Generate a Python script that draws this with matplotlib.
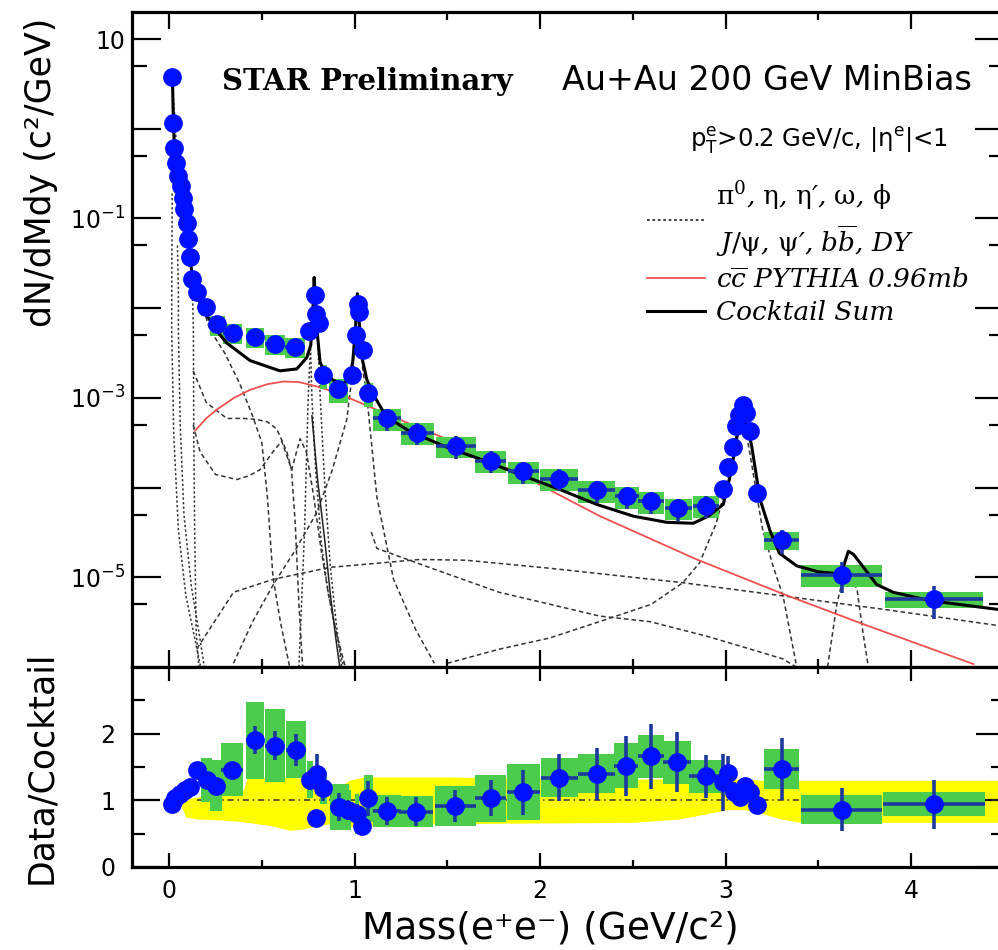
import numpy as np
import matplotlib
matplotlib.use("Agg")
import matplotlib.pyplot as plt
from matplotlib.lines import Line2D
from matplotlib.font_manager import FontProperties
from matplotlib.ticker import FixedLocator, FuncFormatter, MultipleLocator

plt.rcParams['font.family'] = ['DejaVu Sans']
plt.rcParams['mathtext.fontset'] = 'dejavusans'
plt.rcParams['mathtext.default'] = 'regular'

# ---- measured dielectron yield (upper panel) ----
mass = [0.018, 0.023, 0.029, 0.038, 0.050, 0.063, 0.074, 0.081, 0.095, 0.104,
        0.113, 0.126, 0.153, 0.198, 0.260, 0.343, 0.464, 0.571, 0.679, 0.756,
        0.787, 0.792, 0.809, 0.832, 0.913, 0.985, 1.006, 1.021, 1.024, 1.044,
        1.075, 1.174, 1.339, 1.547, 1.734, 1.910, 2.102, 2.305, 2.467, 2.597,
        2.746, 2.895, 2.985, 3.016, 3.039, 3.057, 3.075, 3.096, 3.110, 3.132,
        3.168, 3.303, 3.626, 4.124]
yield_val = [3.8, 1.15, 0.61, 0.41, 0.30, 0.227, 0.17, 0.126, 0.089, 0.059,
             0.037, 0.021, 0.0152, 0.0102, 0.0066, 0.0053, 0.0048, 0.0040, 0.0037, 0.0055,
             0.0139, 0.0087, 0.0068, 0.0018, 0.00125, 0.00178, 0.0050, 0.0112, 0.0091, 0.0034,
             0.00114, 5.9e-4, 4.1e-4, 2.9e-4, 2.0e-4, 1.52e-4, 1.26e-4, 9.3e-5, 8.0e-5, 7.0e-5,
             5.9e-5, 6.3e-5, 9.7e-5, 1.71e-4, 2.83e-4, 4.9e-4, 6.5e-4, 8.4e-4, 6.7e-4, 4.3e-4,
             8.7e-5, 2.6e-5, 1.07e-5, 5.7e-6]
bin_half = [0.003, 0.003, 0.003, 0.005, 0.006, 0.006, 0.005, 0.005, 0.006, 0.005,
            0.005, 0.008, 0.02, 0.025, 0.04, 0.05, 0.05, 0.055, 0.055, 0.01,
            0.01, 0.01, 0.01, 0.02, 0.05, 0.015, 0.01, 0.01, 0.01, 0.01,
            0.025, 0.075, 0.09, 0.11, 0.085, 0.085, 0.1, 0.1, 0.065, 0.07,
            0.075, 0.07, 0.01, 0.01, 0.01, 0.01, 0.01, 0.01, 0.01, 0.01,
            0.02, 0.095, 0.22, 0.265]
stat_frac = [0.05] * 31 + [0.28] * 11 + [0.1] * 8 + [0.15, 0.3, 0.38, 0.4]
sys_frac = ([0.1] * 12 + [0.2, 0.2] + [0.25] * 5 + [0.1] * 4 + [0.3, 0.3, 0.2]
            + [0.1] * 4 + [0.3] + [0.27] * 11 + [0.08] * 8 + [0.1, 0.22, 0.27, 0.2])

# ---- cocktail curves ----
sum_mass = [0.018, 0.023, 0.029, 0.038, 0.05, 0.063, 0.074, 0.081, 0.095, 0.104,
            0.113, 0.126, 0.15, 0.2, 0.26, 0.31, 0.437, 0.598, 0.688, 0.742,
            0.764, 0.776, 0.782, 0.79, 0.80, 0.814, 0.84, 0.88, 0.93, 0.97,
            0.99, 1.005, 1.015, 1.025, 1.04, 1.066, 1.10, 1.17, 1.3, 1.5,
            1.7, 1.91, 2.108, 2.305, 2.503, 2.683, 2.826, 2.907, 2.988, 3.03,
            3.06, 3.087, 3.11, 3.141, 3.186, 3.24, 3.29, 3.384, 3.5, 3.6,
            3.635, 3.662, 3.69, 3.725, 3.815, 3.905, 4.1, 4.39, 4.5]
sum_val = [3.8, 1.15, 0.61, 0.41, 0.30, 0.227, 0.17, 0.126, 0.089, 0.059,
           0.037, 0.021, 0.0135, 0.0085, 0.0055, 0.0041, 0.0026, 0.0020, 0.0021, 0.0028,
           0.0039, 0.01, 0.022, 0.012, 0.005, 0.0025, 0.0019, 0.0016, 0.0014, 0.0016,
           0.0025, 0.006, 0.0145, 0.007, 0.0028, 0.0016, 0.0011, 0.00062, 0.00042, 0.00028,
           0.0002, 1.35e-4, 9.5e-5, 6.5e-5, 4.8e-5, 4.1e-5, 4.0e-5, 4.8e-5, 6.5e-5, 1.5e-4,
           3.5e-4, 7.4e-4, 5.5e-4, 2.9e-4, 7.4e-5, 3.3e-5, 1.86e-5, 1.34e-5, 1.15e-5, 1.1e-5,
           1.3e-5, 1.95e-5, 1.8e-5, 1.45e-5, 8.3e-6, 6.8e-6, 5.5e-6, 4.6e-6, 4.3e-6]

charm_mass = [0.14, 0.20, 0.257, 0.35, 0.437, 0.53, 0.616, 0.70, 0.796, 0.90,
              0.994, 1.245, 1.605, 1.964, 2.323, 2.845, 3.312, 3.743, 4.336]
charm_val = [4.3e-4, 5.9e-4, 7.4e-4, 1.0e-3, 1.23e-3, 1.42e-3, 1.52e-3, 1.5e-3, 1.34e-3, 1.15e-3,
             9.5e-4, 5.7e-4, 2.8e-4, 1.17e-4, 4.8e-5, 1.58e-5, 6.5e-6, 3.0e-6, 1.08e-6]

pi0_mass = [0.018, 0.05, 0.09, 0.115, 0.125, 0.131, 0.133, 0.138, 0.146, 0.16]
pi0_val = [3.5, 0.28, 0.08, 0.032, 0.018, 5.8e-3, 4e-4, 3.2e-5, 2.5e-6, 1e-6]

gam_mass = [0.017, 0.015, 0.014, 0.025, 0.05, 0.09, 0.14, 0.17]
gam_val = [0.19, 0.0316, 5.75e-3, 3.98e-4, 3.4e-5, 6.3e-6, 2e-6, 1e-6]

gam2_mass = [0.045, 0.05, 0.05, 0.06, 0.08, 0.12, 0.16, 0.19]
gam2_val = [0.05, 0.0158, 5.75e-3, 5e-4, 5e-5, 7.9e-6, 2.5e-6, 1e-6]

eta_mass = [0.16, 0.22, 0.30, 0.38, 0.45, 0.50, 0.53, 0.56, 0.60, 0.65]
eta_val = [0.0141, 5.75e-3, 3.16e-3, 1.45e-3, 6.3e-4, 3.16e-4, 7.9e-5, 1e-5, 3.2e-6, 1e-6]

omd_mass = [0.13, 0.2, 0.311, 0.40, 0.47, 0.53, 0.58, 0.607, 0.635, 0.66, 0.68, 0.70, 0.72]
omd_val = [2e-3, 8.9e-4, 5.9e-4, 5.9e-4, 5.75e-4, 5.4e-4, 4.5e-4, 3.4e-4, 2.5e-4, 1.58e-4,
           4e-5, 5e-6, 1e-6]

etap_mass = [0.13, 0.167, 0.25, 0.365, 0.43, 0.49, 0.56, 0.607, 0.661, 0.706, 0.74,
             0.78, 0.82, 0.86, 0.90, 0.95]
etap_val = [5e-4, 2.5e-4, 1.4e-4, 1.23e-4, 1.35e-4, 1.58e-4, 2.5e-4, 3.3e-4, 1.58e-4, 3.5e-4,
            2.5e-4, 7.9e-5, 2e-5, 6.3e-6, 2.5e-6, 1e-6]

omega_mass = [0.70, 0.73, 0.75, 0.765, 0.782, 0.80, 0.815, 0.84, 0.87, 0.90, 0.93]
omega_val = [1e-6, 3.2e-5, 1e-3, 5e-3, 0.02, 5e-3, 1e-3, 1e-4, 1.26e-5, 3.2e-6, 1e-6]

rho_mass = [0.76, 0.77, 0.79, 0.82, 0.86, 0.9, 0.94]
rho_val = [5.75e-3, 1e-3, 1.58e-4, 2.5e-5, 6.3e-6, 2.5e-6, 1e-6]

solid_mass = [0.77, 0.80, 0.84, 0.87, 0.90, 0.92]
solid_val = [6.3e-4, 1.26e-4, 2.5e-5, 6.3e-6, 2e-6, 1e-6]

phi_mass = [0.347, 0.45, 0.562, 0.68, 0.795, 0.88, 0.958, 0.99, 1.005, 1.018, 1.03,
            1.045, 1.066, 1.12, 1.21, 1.33, 1.43]
phi_val = [1.1e-6, 3.2e-6, 8.3e-6, 2e-5, 5.2e-5, 1.58e-4, 5.75e-4, 2e-3, 6.3e-3, 0.0126, 5e-3,
           2e-3, 1.05e-3, 7.9e-5, 9.5e-6, 2.6e-6, 1.1e-6]

tail_mass = [1.09, 1.12, 1.43, 1.78, 2.054, 2.32, 2.593, 2.9, 3.1, 3.31, 3.38]
tail_val = [3.2e-5, 2.1e-5, 1.23e-5, 6.8e-6, 5e-6, 3.7e-6, 3.2e-6, 2.2e-6, 1.66e-6, 1.23e-6, 1e-6]

bb_mass = [0.15, 0.347, 0.562, 0.868, 1.245, 1.353, 1.6, 2.054, 2.77, 3.31, 3.85, 4.47]
bb_val = [1.6e-6, 6.8e-6, 9.5e-6, 1.29e-5, 1.51e-5, 1.58e-5, 1.55e-5, 1.26e-5, 8.7e-6,
          6.2e-6, 4.4e-6, 2.9e-6]

jpsi_mass = [1.5, 1.78, 2.05, 2.32, 2.6, 2.77, 2.86, 2.95, 3.0, 3.05, 3.09, 3.13, 3.17,
             3.2, 3.26, 3.31, 3.38]
jpsi_val = [1.1e-6, 1.58e-6, 2.1e-6, 3.2e-6, 5e-6, 8.7e-6, 1.45e-5, 4e-5, 1e-4, 3.2e-4,
            7e-4, 2.5e-4, 7.9e-5, 3.4e-5, 1.26e-5, 6.2e-6, 1.1e-6]

psi2_mass = [3.55, 3.6, 3.64, 3.67, 3.71, 3.74, 3.77]
psi2_val = [1e-6, 5e-6, 1.12e-5, 1.17e-5, 7.1e-6, 2.5e-6, 1e-6]

# ---- data / cocktail (lower panel) ----
ratio_mass = [0.014, 0.032, 0.059, 0.086, 0.113, 0.149, 0.203, 0.253, 0.338, 0.464,
              0.571, 0.685, 0.760, 0.792, 0.796, 0.832, 0.918, 0.967, 1.012, 1.039,
              1.075, 1.177, 1.332, 1.542, 1.734, 1.910, 2.104, 2.305, 2.464, 2.598,
              2.740, 2.893, 2.985, 3.016, 3.043, 3.079, 3.105, 3.132, 3.168, 3.303,
              3.626, 4.124]
ratio_val = [0.95, 1.03, 1.10, 1.16, 1.20, 1.45, 1.30, 1.22, 1.46, 1.90,
             1.82, 1.76, 1.31, 0.73, 1.40, 1.19, 0.90, 0.86, 0.80, 0.62,
             1.03, 0.84, 0.83, 0.91, 1.03, 1.12, 1.34, 1.40, 1.52, 1.66,
             1.57, 1.36, 1.27, 1.41, 1.12, 1.05, 1.22, 1.12, 0.93, 1.47,
             0.86, 0.94]
ratio_stat = [0.03, 0.03, 0.03, 0.04, 0.05, 0.06, 0.06, 0.07, 0.08, 0.21,
              0.22, 0.24, 0.15, 0.08, 0.30, 0.20, 0.21, 0.15, 0.15, 0.10,
              0.26, 0.21, 0.22, 0.24, 0.27, 0.34, 0.35, 0.39, 0.45, 0.49,
              0.45, 0.32, 0.43, 0.25, 0.15, 0.10, 0.12, 0.10, 0.08, 0.46,
              0.32, 0.37]
ratio_half = [0.004, 0.006, 0.008, 0.008, 0.008, 0.012, 0.03, 0.03, 0.06, 0.05,
              0.055, 0.055, 0.015, 0.01, 0.01, 0.02, 0.05, 0.015, 0.01, 0.01,
              0.025, 0.075, 0.09, 0.11, 0.085, 0.09, 0.1, 0.1, 0.065, 0.07,
              0.075, 0.09, 0.01, 0.01, 0.01, 0.01, 0.01, 0.01, 0.015, 0.095,
              0.22, 0.275]
ratio_sys = [0.08, 0.08, 0.09, 0.1, 0.1, 0.12, 0.33, 0.38, 0.40, 0.58,
             0.55, 0.43, 0.28, 0.1, 0.1, 0.25, 0.35, 0.3, 0.3, 0.1,
             0.35, 0.24, 0.23, 0.3, 0.35, 0.42, 0.29, 0.29, 0.34, 0.32,
             0.32, 0.25, 0.1, 0.1, 0.1, 0.1, 0.1, 0.1, 0.1, 0.30,
             0.22, 0.18]

band_mass = [0.06, 0.09, 0.15, 0.25, 0.35, 0.40, 0.42, 0.55, 0.65, 0.72, 0.80, 0.88,
             0.92, 0.97, 1.05, 1.10, 1.5, 2.0, 2.5, 2.75, 2.90, 3.00, 3.10, 3.20,
             3.30, 3.40, 4.5]
band_hi = [0.98, 1.02, 1.05, 1.08, 1.10, 1.15, 1.33, 1.35, 1.35, 1.33, 1.32, 1.25,
           1.2, 1.30, 1.35, 1.35, 1.35, 1.33, 1.32, 1.32, 1.32, 1.32, 1.32, 1.30,
           1.30, 1.30, 1.30]
band_lo = [0.95, 0.75, 0.72, 0.71, 0.69, 0.68, 0.67, 0.62, 0.55, 0.57, 0.62, 0.65,
           0.62, 0.60, 0.62, 0.63, 0.65, 0.66, 0.67, 0.72, 0.80, 0.86, 0.86, 0.80,
           0.72, 0.67, 0.67]

BLUE = '#0010ff'
NAVY = '#1c3a9e'
GREEN = '#4ccc4c'
YELLOW = '#ffff00'
RED = '#f05050'
DASH = '#333333'

fig = plt.figure(figsize=(9.98, 9.5), dpi=100)
W = 998.0
H = 950.0
ax_w = (1003.75 - 132) / W
ax1 = fig.add_axes([132 / W, 283 / H, ax_w, 655 / H])
ax2 = fig.add_axes([132 / W, 83 / H, ax_w, 200 / H], sharex=ax1)

m = np.array(mass)
y = np.array(yield_val)
hw = np.array(bin_half)
sf = np.array(sys_frac)
st = np.array(stat_frac)

# upper panel: cocktail components
for cx, cy in [(pi0_mass, pi0_val), (gam_mass, gam_val), (gam2_mass, gam2_val),
               (rho_mass, rho_val), (omega_mass, omega_val)]:
    ax1.plot(cx, cy, color=DASH, lw=1.1, ls=(0, (1.5, 1.5)), zorder=1)
for cx, cy in [(eta_mass, eta_val), (omd_mass, omd_val), (etap_mass, etap_val),
               (phi_mass, phi_val), (tail_mass, tail_val), (bb_mass, bb_val),
               (jpsi_mass, jpsi_val), (psi2_mass, psi2_val)]:
    ax1.plot(cx, cy, color=DASH, lw=1.1, ls=(0, (3, 2)), zorder=1)
ax1.plot(solid_mass, solid_val, color='#222222', lw=1.1, zorder=1)
ax1.plot(charm_mass, charm_val, color=RED, lw=1.3, zorder=2)

ax1.bar(m, y * 2 * sf, width=2 * hw, bottom=y * (1 - sf), color=GREEN, lw=0, zorder=3)
ax1.plot(sum_mass, sum_val, color='black', lw=2.2, zorder=4)
ax1.errorbar(m, y, xerr=hw, yerr=y * st, fmt='none', ecolor=NAVY, elinewidth=2.6,
             capsize=0, zorder=5)
ax1.plot(m, y, 'o', ms=12.5, color=BLUE, mec=BLUE, zorder=6)

ax1.set_yscale('log')
ax1.set_ylim(1e-6, 20)
ax1.set_xlim(-0.2, 4.5)
decades = [1e-5, 1e-4, 1e-3, 1e-2, 1e-1, 1, 10]
ax1.yaxis.set_major_locator(FixedLocator(decades))
ax1.yaxis.set_minor_locator(FixedLocator([5e-6, 5e-5, 5e-4, 5e-3, 5e-2, 0.5, 5]))


def decade_label(v, pos):
    n = int(round(np.log10(v)))
    if n % 2 == 0:
        return ''
    if n == 1:
        return '10'
    return r'$10^{%d}$' % n


ax1.yaxis.set_major_formatter(FuncFormatter(decade_label))
ax1.yaxis.set_minor_formatter(FuncFormatter(lambda v, p: ''))
ax1.tick_params(axis='y', which='major', length=21, width=1.6, labelsize=17, pad=5)
ax1.tick_params(axis='y', which='minor', length=10.5, width=1.6)
ax1.tick_params(axis='x', which='major', length=12, width=1.6, labelbottom=False)
ax1.tick_params(axis='x', which='minor', length=6, width=1.6)

# lower panel
ax2.fill_between(band_mass, band_lo, band_hi, color=YELLOW, lw=0, zorder=1)
ax2.hlines(1.0, 0.15, 4.5, colors='#333333', lw=1.1, linestyles=(0, (4, 2.5, 1, 2.5)), zorder=2)
rm = np.array(ratio_mass)
rv = np.array(ratio_val)
rs = np.array(ratio_sys)
ax2.bar(rm, 2 * rs, width=2 * np.array(ratio_half), bottom=rv - rs, color=GREEN, lw=0, zorder=3)
ax2.errorbar(rm, rv, xerr=ratio_half, yerr=ratio_stat, fmt='none', ecolor=NAVY,
             elinewidth=2.6, capsize=0, zorder=4)
ax2.plot(rm, rv, 'o', ms=12.5, color=BLUE, mec=BLUE, zorder=5)
ax2.set_ylim(0, 3)
ax2.yaxis.set_major_locator(FixedLocator([0, 1, 2]))
ax2.yaxis.set_minor_locator(FixedLocator([0.5, 1.5, 2.5]))
ax2.xaxis.set_major_locator(MultipleLocator(1))
ax2.xaxis.set_minor_locator(MultipleLocator(0.5))
ax2.tick_params(axis='y', which='major', length=20, width=1.6, labelsize=17, pad=12)
ax2.tick_params(axis='y', which='minor', length=9.5, width=1.6)
ax2.tick_params(axis='x', which='major', length=10, width=1.6, labelsize=17, pad=9)
ax2.tick_params(axis='x', which='minor', length=5, width=1.6)

for ax in (ax1, ax2):
    ax.tick_params(which='both', direction='in', top=True, right=True)
    for sp in ax.spines.values():
        sp.set_linewidth(2.3)

# labels
fig.text(41 / W, 1 - 172 / H, 'dN/dMdy (c²/GeV)', rotation=90, ha='center',
         va='center', fontsize=25)
fig.text(41 / W, 1 - 767 / H, 'Data/Cocktail', rotation=90, ha='center',
         va='center', fontsize=25)
fig.text(550 / W, 1 - 928 / H, 'Mass(e⁺e⁻) (GeV/c²)', ha='center',
         va='center', fontsize=27)

ax1.text(0.103, 0.881, 'STAR Preliminary', transform=ax1.transAxes, fontsize=21,
         family='DejaVu Serif', weight='bold', va='baseline')
ax1.text(0.493, 0.881, 'Au+Au 200 GeV MinBias', transform=ax1.transAxes,
         fontsize=24, va='baseline')
ax1.text(0.640, 0.794, r'p$_T^e$>0.2 GeV/c, |$\eta^e$|<1', transform=ax1.transAxes,
         fontsize=17.5, va='baseline')

handles = [Line2D([], [], color=DASH, lw=1.3, ls=(0, (1.5, 1.5))),
           Line2D([], [], color=RED, lw=1.3),
           Line2D([], [], color='black', lw=2.2)]
line_a = r"$\mathrm{\pi}^{\mathit{0}}$, $\mathrm{\eta}$, $\mathrm{\eta}$′, $\mathrm{\omega}$, $\mathrm{\phi}$"
line_b = r"$\mathit{J/}\mathrm{\psi}$, $\mathrm{\psi}$′, $\mathit{b\overline{b}}$, $\mathit{DY}$"
labels = [line_a + '\n' + line_b,
          r"$\mathit{c\overline{c}}$ PYTHIA 0.96mb",
          'Cocktail Sum']
leg_font = FontProperties(family='DejaVu Serif', style='italic', size=19,
                          math_fontfamily='dejavuserif')
leg = ax1.legend(handles, labels, loc='upper left', bbox_to_anchor=(0.591, 0.745),
                 frameon=False, prop=leg_font, borderpad=0, borderaxespad=0,
                 handlelength=2.2, handletextpad=0.4, labelspacing=0.3)
leg.get_texts()[0].set_linespacing(1.4)

fig.savefig('out.png', dpi=100)
